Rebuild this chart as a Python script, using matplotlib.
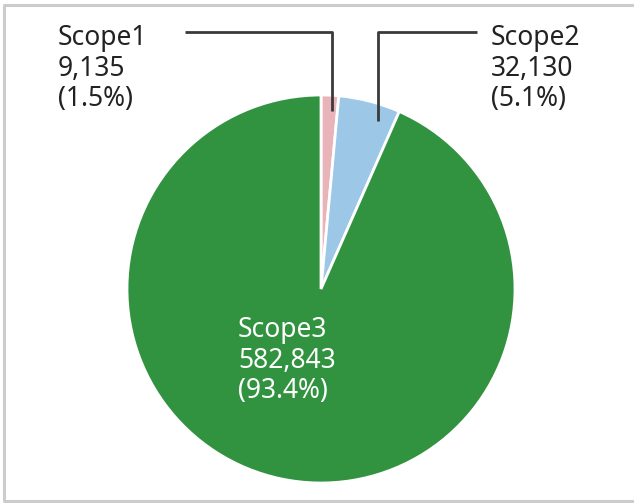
import matplotlib.pyplot as plt

plt.rcParams["font.family"] = ["Noto Sans", "DejaVu Sans"]

# Emissions by scope (t-CO2)
scopes = ["Scope1", "Scope2", "Scope3"]
emissions = [9135, 32130, 582843]
shares = [1.5, 5.1, 93.4]
colors = ["#e8b4b9", "#9dc7e6", "#31933f"]

W, H = 634, 503
fig = plt.figure(figsize=(W / 100, H / 100), dpi=100)
ax = fig.add_axes([0, 0, 1, 1])
ax.axis("off")

cx, cy, r = 321, H - 289, 194
ax.pie(
    emissions,
    colors=colors,
    startangle=90,
    counterclock=False,
    center=(cx, cy),
    radius=r,
    wedgeprops=dict(edgecolor="white", linewidth=2),
)
ax.set_xlim(0, W)
ax.set_ylim(0, H)
ax.set_aspect("equal")

# light frame, open on the right (cropped in the source)
frame_kw = dict(color="#cccccc", linewidth=2.2, solid_capstyle="butt")
ax.plot([W, 4, 4, W], [H - 5, H - 5, 2, 2], **frame_kw)


def label(i):
    return f"{scopes[i]}\n{emissions[i]:,}\n({shares[i]}%)"


line_kw = dict(color="#3a3a3a", linewidth=2, solid_capstyle="butt")
# Scope1 leader: down into the pink slice, left to the label
ax.plot([185, 332, 332], [H - 32, H - 32, H - 111], **line_kw)
# Scope2 leader: down into the blue slice, right to the label
ax.plot([477, 378, 378], [H - 32, H - 32, H - 121], **line_kw)

txt_kw = dict(fontsize=19, linespacing=1.12, ha="left", va="top")
ax.text(58, H - 24, label(0), color="#222222", **txt_kw)
ax.text(491, H - 24, label(1), color="#222222", **txt_kw)
ax.text(238, H - 316, label(2), color="white", **txt_kw)

fig.savefig("out.png", dpi=100, facecolor="white")
